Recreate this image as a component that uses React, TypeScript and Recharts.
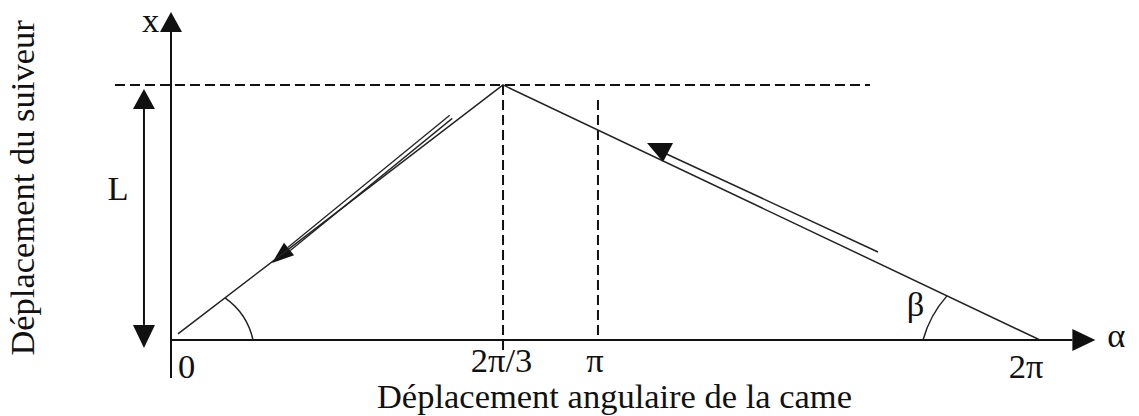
import React from "react";
import { ComposedChart, Line, XAxis, YAxis, ReferenceLine, ReferenceDot } from "recharts";

const W = 1139;
const H = 416;
const FONT = '"Liberation Serif", "Times New Roman", serif';
const INK = "#111";

// schematic units: cam angle 0..100 across the plot, follower lift with L = 1
const uMax = 100;
const vMax = 1.286;
const curveU = [0.75, 35.74, 93.54];
const curveV = [0.024, 1, 0];
const tickU = [0, 35.74, 45.96, 93.54];
const tickLabels = ["0", "2π/3", "π", "2π"];
const liftL = 1;
const piTop = 0.941;
const yAxisBottom = -0.149;
const dashRight = 75.24;
const dashLeft = -6.03;
const lArrowU = -2.91;
const lArrowV = [0.984, -0.031];
const riseArrow = [{ x: 30.14, y: 0.875 }, { x: 10.87, y: 0.302 }];
const returnArrow = [{ x: 76.1, y: 0.345 }, { x: 52.64, y: 0.741 }];
const arcRise = [{ x: 5.81, y: 0.165 }, { x: 8.83, y: 0 }];
const arcReturn = [{ x: 80.95, y: 0 }, { x: 83.53, y: 0.173 }];

const xAxisTitle = "Déplacement angulaire de la came";
const yAxisTitle = "Déplacement du suiveur";

const rows = curveU.map((u, i) => ({ u, v: curveV[i] }));

function head(tx: number, ty: number, fx: number, fy: number, len: number, half: number) {
  const dx = tx - fx;
  const dy = ty - fy;
  const d = Math.hypot(dx, dy) || 1;
  const ux = dx / d;
  const uy = dy / d;
  const bx = tx - ux * len;
  const by = ty - uy * len;
  const pts = `${tx},${ty} ${bx - uy * half},${by + ux * half} ${bx + uy * half},${by - ux * half}`;
  return { bx, by, pts };
}

const axisArrow = (len: number, half: number) => (p: any) => {
  const h = head(p.x2, p.y2, p.x1, p.y1, len, half);
  return (
    <g>
      <line x1={p.x1} y1={p.y1} x2={h.bx} y2={h.by} stroke={INK} strokeWidth={2} />
      <polygon points={h.pts} fill={INK} />
    </g>
  );
};

const bothWays = (p: any) => {
  const a = head(p.x1, p.y1, p.x2, p.y2, 20, 11);
  const b = head(p.x2, p.y2, p.x1, p.y1, 23, 11);
  return (
    <g>
      <line x1={a.bx} y1={a.by} x2={b.bx} y2={b.by} stroke={INK} strokeWidth={2} />
      <polygon points={a.pts} fill={INK} />
      <polygon points={b.pts} fill={INK} />
    </g>
  );
};

const doubleShaft = (p: any) => {
  const h = head(p.x2, p.y2, p.x1, p.y1, 22, 8);
  const d = Math.hypot(p.x2 - p.x1, p.y2 - p.y1) || 1;
  const ox = (-(p.y2 - p.y1) / d) * 2;
  const oy = ((p.x2 - p.x1) / d) * 2;
  return (
    <g stroke="#222" strokeWidth={1.3}>
      <line x1={p.x1 + ox} y1={p.y1 + oy} x2={h.bx + ox} y2={h.by + oy} />
      <line x1={p.x1 - ox} y1={p.y1 - oy} x2={h.bx - ox} y2={h.by - oy} />
      <polygon points={h.pts} fill={INK} stroke="none" />
    </g>
  );
};

const singleShaft = (p: any) => (
  <g>
    <line x1={p.x1} y1={p.y1} x2={p.x2} y2={p.y2} stroke="#222" strokeWidth={1.5} />
    <polygon
      points={`${p.x2 - 13},${p.y2 - 8} ${p.x2 + 13},${p.y2 - 8} ${p.x2 + 3},${p.y2 + 11}`}
      fill={INK}
    />
  </g>
);

const arc = (r: number) => (p: any) => (
  <path
    d={`M${p.x1},${p.y1} A${r},${r} 0 0 1 ${p.x2},${p.y2}`}
    fill="none"
    stroke="#222"
    strokeWidth={1.5}
  />
);

const label = (text: string, dx: number, dy: number, anchor = "middle", rotate = false) => (p: any) => {
  const x = p.cx + dx;
  const y = p.cy + dy;
  return (
    <text
      x={rotate ? 0 : x}
      y={rotate ? 0 : y}
      transform={rotate ? `translate(${x},${y}) rotate(-90)` : undefined}
      textAnchor={anchor}
      fontFamily={FONT}
      fontSize={34.5}
      fill={INK}
    >
      {text}
    </text>
  );
};

const tickOffsets = [
  { dx: 7, dy: 38, anchor: "start" },
  { dx: -1.5, dy: 32, anchor: "middle" },
  { dx: -3, dy: 32, anchor: "middle" },
  { dx: -14, dy: 38, anchor: "middle" },
];

export default function App() {
  return (
    <div style={{ position: "absolute", left: 0, top: 0, width: W, height: H, background: "#fff" }}>
      <ComposedChart width={W} height={H} data={rows} margin={{ top: 12, right: 39, bottom: 76, left: 171 }}>
        <XAxis type="number" dataKey="u" domain={[0, uMax]} allowDataOverflow hide />
        <YAxis type="number" domain={[0, vMax]} allowDataOverflow hide />

        {/* dashed guides */}
        <ReferenceLine
          segment={[{ x: dashLeft, y: liftL }, { x: dashRight, y: liftL }]}
          ifOverflow="visible"
          stroke={INK}
          strokeWidth={2}
          strokeDasharray="10 5"
        />
        <ReferenceLine
          segment={[{ x: tickU[1], y: liftL }, { x: tickU[1], y: -0.04 }]}
          ifOverflow="visible"
          stroke={INK}
          strokeWidth={2}
          strokeDasharray="10 5"
        />
        <ReferenceLine
          segment={[{ x: tickU[2], y: piTop }, { x: tickU[2], y: 0 }]}
          ifOverflow="visible"
          stroke={INK}
          strokeWidth={2}
          strokeDasharray="10 5"
        />

        {/* axes */}
        <ReferenceLine
          segment={[{ x: 0, y: yAxisBottom }, { x: 0, y: vMax }]}
          ifOverflow="visible"
          shape={axisArrow(20, 11)}
        />
        <ReferenceLine
          segment={[{ x: 0, y: 0 }, { x: 99.5, y: 0 }]}
          ifOverflow="visible"
          shape={axisArrow(23, 11)}
        />

        {/* lift L */}
        <ReferenceLine
          segment={[{ x: lArrowU, y: lArrowV[0] }, { x: lArrowU, y: lArrowV[1] }]}
          ifOverflow="visible"
          shape={bothWays}
        />

        {/* motion arrows and angles */}
        <ReferenceLine segment={riseArrow} ifOverflow="visible" shape={doubleShaft} />
        <ReferenceLine segment={returnArrow} ifOverflow="visible" shape={singleShaft} />
        <ReferenceLine segment={arcRise} ifOverflow="visible" shape={arc(70)} />
        <ReferenceLine segment={arcReturn} ifOverflow="visible" shape={arc(110)} />

        <Line
          type="linear"
          dataKey="v"
          stroke="#222"
          strokeWidth={1.5}
          dot={false}
          isAnimationActive={false}
        />

        {tickU.map((u, i) => (
          <ReferenceDot
            key={tickLabels[i]}
            x={u}
            y={0}
            ifOverflow="visible"
            shape={label(tickLabels[i], tickOffsets[i].dx, tickOffsets[i].dy, tickOffsets[i].anchor)}
          />
        ))}
        <ReferenceDot x={0} y={vMax} ifOverflow="visible" shape={label("x", -20.5, 20)} />
        <ReferenceDot x={99.5} y={0} ifOverflow="visible" shape={label("α", 21, 7)} />
        <ReferenceDot x={arcReturn[0].x} y={0} ifOverflow="visible" shape={label("β", -7.5, -24)} />
        <ReferenceDot x={lArrowU} y={liftL / 2} ifOverflow="visible" shape={label("L", -26, -12.5)} />
        <ReferenceDot x={uMax / 2} y={0} ifOverflow="visible" shape={label(xAxisTitle, -21, 68)} />
        <ReferenceDot x={0} y={liftL / 2} ifOverflow="visible" shape={label(yAxisTitle, -137, -24.5, "middle", true)} />
      </ComposedChart>
    </div>
  );
}
